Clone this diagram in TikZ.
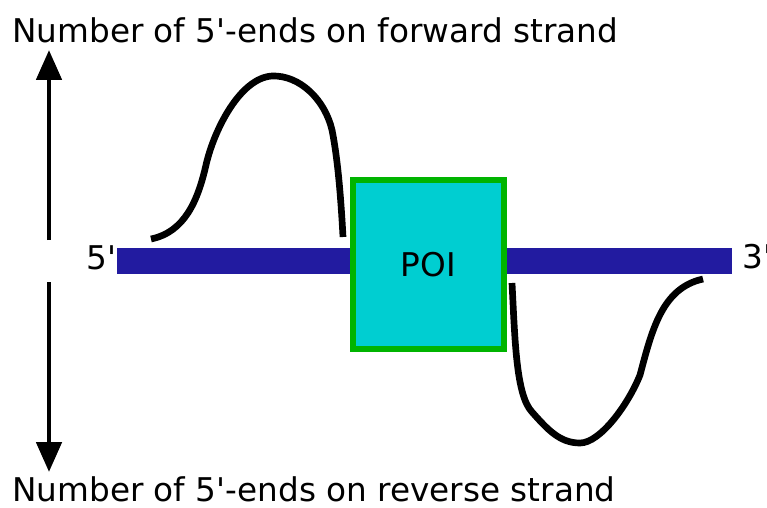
\documentclass[tikz,border=0pt]{standalone}
\usepackage{fontspec}
\setmainfont{DejaVu Sans}
\usetikzlibrary{positioning}
\usetikzlibrary{arrows.meta}

\definecolor{dnablue}{RGB}{34,27,160}
\definecolor{poicyan}{RGB}{0,206,209}
\definecolor{poigreen}{RGB}{0,180,0}

\newcommand{\apos}{\textquotesingle}

\begin{document}
\begin{tikzpicture}[x=0.02cm, y=-0.02cm,
    every node/.style={font=\fontsize{18.6pt}{22pt}\selectfont, inner sep=0pt},
    dnabar/.style={fill=dnablue, minimum width=12.3cm, minimum height=0.52cm},
    poibox/.style={draw=poigreen, fill=poicyan, line width=3.4pt, minimum width=3.02cm, minimum height=3.38cm},
    axis/.style={line width=2.8pt, -{Triangle[length=0.6cm, width=0.5cm]}},
    profile/.style={line width=3.8pt, line cap=butt}]

    \useasboundingbox (0,0) rectangle (767,507);

    % strand and region of interest
    \node [dnabar] (dna) at (424.5,261) {};
    \node [poibox] (poi) at (428.5,264.5) {POI};

    \node [anchor=base west] (five) at (86,269) {5\apos};
    \node [anchor=base west] (three) at (742,268) {3\apos};

    % axis labels
    \node [anchor=base west] (fwd) at (12,42) {Number of 5\apos-ends on forward strand};
    \node [anchor=base west] (rev) at (12,501) {Number of 5\apos-ends on reverse strand};

    \coordinate (up0) at (49,240);
    \coordinate (up1) at (49,50);
    \coordinate (dn0) at (49,282);
    \coordinate (dn1) at (49,472);
    \draw [axis] (up0) -- (up1);
    \draw [axis] (dn0) -- (dn1);

    % forward
    \draw [profile] (151,239) .. controls (185,232) and (198,200) .. (206,165)
        .. controls (214,130) and (240,78) .. (272,76)
        .. controls (300,75) and (325,100) .. (332,130)
        .. controls (338,160) and (341,200) .. (343,237);

    % reverse
    \draw [profile] (512,283) .. controls (515,340) and (516,395) .. (532,412)
        .. controls (548,430) and (560,443) .. (580,443)
        .. controls (600,443) and (628,405) .. (640,375)
        .. controls (652,330) and (662,288) .. (703,279);

\end{tikzpicture}
\end{document}
